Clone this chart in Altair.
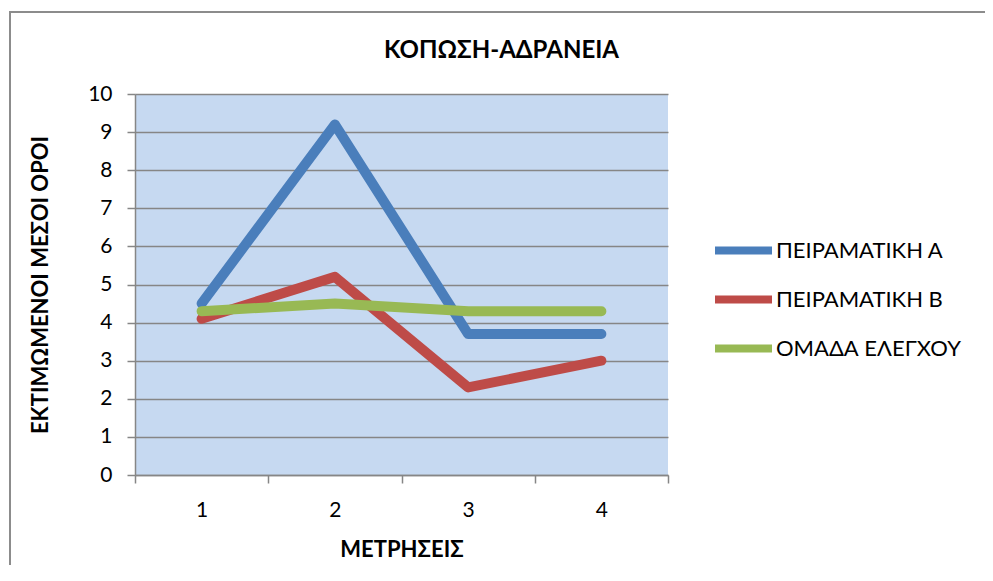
import altair as alt
import pandas as pd

categories = ["1", "2", "3", "4"]
series_names = ["ΠΕΙΡΑΜΑΤΙΚΗ Α", "ΠΕΙΡΑΜΑΤΙΚΗ Β", "ΟΜΑΔΑ ΕΛΕΓΧΟΥ"]
series_a = [4.5, 9.2, 3.7, 3.7]
series_b = [4.1, 5.2, 2.3, 3.0]
series_c = [4.3, 4.5, 4.3, 4.3]
colors = ["#4A7EBB", "#BE4B48", "#98B954"]

rows = []
for name, vals in zip(series_names, [series_a, series_b, series_c]):
    for c, v in zip(categories, vals):
        rows.append({"cat": c, "value": v, "series": name})
df = pd.DataFrame(rows)

FONT = "Lato"

lines = alt.Chart(df).mark_line(strokeWidth=10, strokeCap="round", strokeJoin="round").encode(
    x=alt.X("cat:O", bandPosition=0.5,
            scale=alt.Scale(type="band", domain=categories, paddingInner=0, paddingOuter=0),
            axis=alt.Axis(title="ΜΕΤΡΗΣΕΙΣ", labelAngle=0, tickBand="extent", grid=False,
                          tickSize=8, labelPadding=16, titlePadding=19)),
    y=alt.Y("value:Q", scale=alt.Scale(domain=[0, 10], nice=False),
            axis=alt.Axis(title="ΕΚΤΙΜΩΜΕΝΟΙ ΜΕΣΟΙ ΟΡΟΙ", values=list(range(0, 11)),
                          tickSize=8, labelPadding=15, titlePadding=35, grid=True)),
    color=alt.Color("series:N", scale=alt.Scale(domain=series_names, range=colors),
                    legend=alt.Legend(title=None, orient="none", legendX=576, legendY=124,
                                      symbolType="stroke", symbolSize=3249, symbolStrokeWidth=8,
                                      labelFontSize=22, labelFont=FONT, labelColor="#000",
                                      rowPadding=0, labelOffset=0, labelLimit=400)),
    order=alt.Order("series:N"),
)

frame = alt.Chart(pd.DataFrame({"k": [0]})).mark_rect(fill=None, stroke="#8c8c8c", strokeWidth=2).encode(
    x=alt.value(-125), x2=alt.value(857), y=alt.value(-82), y2=alt.value(520)
)

chart = alt.layer(lines, frame).properties(
    width=533, height=381,
    title=alt.TitleParams("ΚΟΠΩΣΗ-ΑΔΡΑΝΕΙΑ", font=FONT, fontSize=24, fontWeight="bold",
                          color="#000", dx=100, offset=-52),
    autosize=alt.AutoSizeParams(type="none"),
    padding={"left": 127, "top": 86, "right": 317, "bottom": 90},
    background="white",
).configure_view(fill="#C6D9F1", stroke=None).configure_axis(
    domainColor="#868686", domainWidth=1.5, tickColor="#868686", tickWidth=1.5,
    gridColor="#868686", gridWidth=1.5, labelFont=FONT, labelFontSize=21, labelColor="#000",
    titleFont=FONT, titleFontSize=22, titleFontWeight="bold", titleColor="#000",
)

chart.save("out.html", embed_options={"renderer": "svg", "actions": False})
